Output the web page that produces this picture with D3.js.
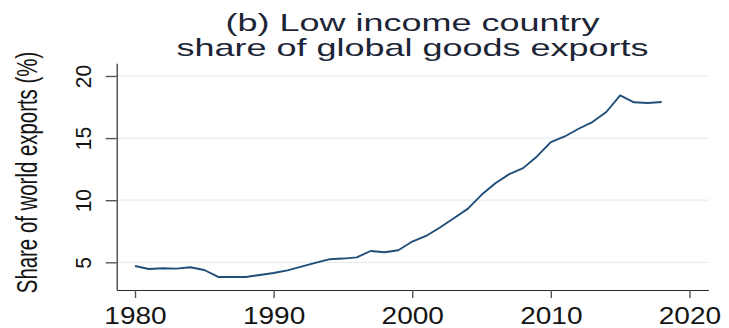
<!DOCTYPE html>
<html>
<head>
<meta charset="utf-8">
<script src="https://cdn.jsdelivr.net/npm/d3@7"></script>
<style>
  html, body { margin: 0; padding: 0; background: #fff; }
  svg { display: block; }
  text { font-family: "Liberation Sans", Arial, sans-serif; }
</style>
</head>
<body>
<svg id="chart" width="729" height="328"></svg>
<script>
// Low income country share of global goods exports, 1980-2018 (%)
const years = [1980, 1981, 1982, 1983, 1984, 1985, 1986, 1987, 1988, 1989,
               1990, 1991, 1992, 1993, 1994, 1995, 1996, 1997, 1998, 1999,
               2000, 2001, 2002, 2003, 2004, 2005, 2006, 2007, 2008, 2009,
               2010, 2011, 2012, 2013, 2014, 2015, 2016, 2017, 2018];
const shares = [4.70, 4.46, 4.52, 4.49, 4.60, 4.38, 3.82, 3.82, 3.82, 3.98,
                4.14, 4.35, 4.65, 4.95, 5.24, 5.30, 5.40, 5.91, 5.81, 5.97,
                6.67, 7.12, 7.80, 8.55, 9.30, 10.43, 11.37, 12.10, 12.58, 13.52,
                14.68, 15.13, 15.75, 16.29, 17.10, 18.44, 17.88, 17.82, 17.90];
const xTicks = [1980, 1990, 2000, 2010, 2020];
const yTicks = [5, 10, 15, 20];
const titleLines = ["(b) Low income country", "share of global goods exports"];
const yTitle = "Share of world exports (%)";

const svg = d3.select("#chart");
const plot = { left: 116.7, right: 708.3, top: 63.3, bottom: 290 };

const x = d3.scaleLinear().domain([1978.68, 2021.36]).range([plot.left, plot.right]);
const y = d3.scaleLinear().domain([2.77, 21.02]).range([plot.bottom, plot.top]);

// horizontal grid lines
svg.append("g")
  .selectAll("line")
  .data(yTicks)
  .join("line")
  .attr("x1", plot.left).attr("x2", plot.right)
  .attr("y1", d => y(d)).attr("y2", d => y(d))
  .attr("stroke", "#e6eef1")
  .attr("stroke-width", 1.3);

// x axis
const xAxis = svg.append("g")
  .attr("transform", `translate(0,${plot.bottom})`)
  .call(d3.axisBottom(x).tickValues(xTicks).tickSizeInner(8).tickSizeOuter(0).tickFormat(d3.format("d")));
xAxis.select(".domain").attr("stroke", "#2a2a2a").attr("stroke-width", 1.2);
xAxis.selectAll(".tick line").attr("stroke", "#555").attr("stroke-width", 1.4);
xAxis.selectAll(".tick text")
  .attr("y", 0).attr("dy", null)
  .attr("transform", "translate(0,34) scale(1.22,1)")
  .attr("font-size", 23)
  .attr("fill", "#141414")
  .attr("font-family", '"Liberation Sans", Arial, sans-serif');

// y axis
const yAxis = svg.append("g")
  .attr("transform", `translate(${plot.left},0)`)
  .call(d3.axisLeft(y).tickValues(yTicks).tickSizeInner(11).tickSizeOuter(0).tickFormat(d3.format("d")));
yAxis.select(".domain").attr("stroke", "#2a2a2a").attr("stroke-width", 1.2);
yAxis.selectAll(".tick line").attr("stroke", "#555").attr("stroke-width", 1.4);
yAxis.selectAll(".tick text")
  .attr("x", 0).attr("dy", null)
  .attr("text-anchor", "middle")
  .attr("transform", "translate(-26,0) rotate(-90) scale(1,1.07)")
  .attr("font-size", 21)
  .attr("fill", "#141414")
  .attr("font-family", '"Liberation Sans", Arial, sans-serif');

// y axis title
svg.append("text")
  .attr("transform", `translate(37,${(52 + 293) / 2}) rotate(-90) scale(1,1.46)`)
  .attr("text-anchor", "middle")
  .attr("font-size", 20.4)
  .attr("fill", "#141414")
  .text(yTitle);

// series line
const line = d3.line()
  .x((d, i) => x(years[i]))
  .y(d => y(d));
svg.append("path")
  .datum(shares)
  .attr("d", line)
  .attr("fill", "none")
  .attr("stroke", "#1f4e79")
  .attr("stroke-width", 1.9)
  .attr("stroke-linejoin", "round");

// title, centred over the plot region
const titleX = (plot.left + plot.right) / 2;
svg.append("g")
  .selectAll("text")
  .data(titleLines)
  .join("text")
  .attr("transform", (d, i) => `translate(${titleX},${30.5 + i * 25}) scale(1.5,1)`)
  .attr("text-anchor", "middle")
  .attr("font-size", 24)
  .attr("fill", "#1c2536")
  .text(d => d);
</script>
</body>
</html>
